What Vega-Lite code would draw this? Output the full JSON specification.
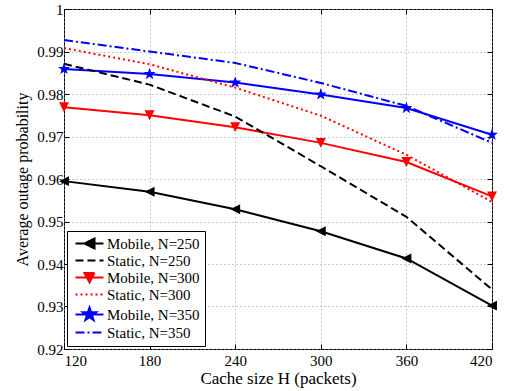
{
  "$schema": "https://vega.github.io/schema/vega-lite/v6.json",
  "width": 428,
  "height": 340,
  "autosize": {"type": "none"},
  "padding": {"left": 64, "top": 9, "right": 18, "bottom": 42},
  "config": {
    "view": {"stroke": "#000", "strokeWidth": 1},
    "font": "Liberation Serif",
    "axis": {
      "labelFont": "Liberation Serif", "labelFontSize": 15, "labelColor": "#000",
      "titleFont": "Liberation Serif", "titleFontSize": 17, "titleFontWeight": "normal", "titleColor": "#000",
      "domain": false, "tickColor": "#000", "tickSize": -5, "labelPadding": 9,
      "gridColor": "#999", "gridDash": [1, 3], "gridWidth": 1
    },
    "legend": {
      "labelFont": "Liberation Serif", "labelFontSize": 15, "labelColor": "#000"
    }
  },
  "data": {"values": [
    {"H": 120, "p": 0.9595, "series": "Mobile, N=250", "type": "Mobile"},
    {"H": 180, "p": 0.9570, "series": "Mobile, N=250", "type": "Mobile"},
    {"H": 240, "p": 0.9529, "series": "Mobile, N=250", "type": "Mobile"},
    {"H": 300, "p": 0.9477, "series": "Mobile, N=250", "type": "Mobile"},
    {"H": 360, "p": 0.9413, "series": "Mobile, N=250", "type": "Mobile"},
    {"H": 420, "p": 0.9302, "series": "Mobile, N=250", "type": "Mobile"},
    {"H": 120, "p": 0.9871, "series": "Static, N=250", "type": "Static"},
    {"H": 180, "p": 0.9822, "series": "Static, N=250", "type": "Static"},
    {"H": 240, "p": 0.9747, "series": "Static, N=250", "type": "Static"},
    {"H": 300, "p": 0.9630, "series": "Static, N=250", "type": "Static"},
    {"H": 360, "p": 0.9511, "series": "Static, N=250", "type": "Static"},
    {"H": 420, "p": 0.9340, "series": "Static, N=250", "type": "Static"},
    {"H": 120, "p": 0.9769, "series": "Mobile, N=300", "type": "Mobile"},
    {"H": 180, "p": 0.9750, "series": "Mobile, N=300", "type": "Mobile"},
    {"H": 240, "p": 0.9722, "series": "Mobile, N=300", "type": "Mobile"},
    {"H": 300, "p": 0.9685, "series": "Mobile, N=300", "type": "Mobile"},
    {"H": 360, "p": 0.9640, "series": "Mobile, N=300", "type": "Mobile"},
    {"H": 420, "p": 0.9559, "series": "Mobile, N=300", "type": "Mobile"},
    {"H": 120, "p": 0.9908, "series": "Static, N=300", "type": "Static"},
    {"H": 180, "p": 0.9870, "series": "Static, N=300", "type": "Static"},
    {"H": 240, "p": 0.9815, "series": "Static, N=300", "type": "Static"},
    {"H": 300, "p": 0.9749, "series": "Static, N=300", "type": "Static"},
    {"H": 360, "p": 0.9657, "series": "Static, N=300", "type": "Static"},
    {"H": 420, "p": 0.9546, "series": "Static, N=300", "type": "Static"},
    {"H": 120, "p": 0.9859, "series": "Mobile, N=350", "type": "Mobile"},
    {"H": 180, "p": 0.9847, "series": "Mobile, N=350", "type": "Mobile"},
    {"H": 240, "p": 0.9827, "series": "Mobile, N=350", "type": "Mobile"},
    {"H": 300, "p": 0.9799, "series": "Mobile, N=350", "type": "Mobile"},
    {"H": 360, "p": 0.9767, "series": "Mobile, N=350", "type": "Mobile"},
    {"H": 420, "p": 0.9704, "series": "Mobile, N=350", "type": "Mobile"},
    {"H": 120, "p": 0.9927, "series": "Static, N=350", "type": "Static"},
    {"H": 180, "p": 0.9900, "series": "Static, N=350", "type": "Static"},
    {"H": 240, "p": 0.9873, "series": "Static, N=350", "type": "Static"},
    {"H": 300, "p": 0.9826, "series": "Static, N=350", "type": "Static"},
    {"H": 360, "p": 0.9772, "series": "Static, N=350", "type": "Static"},
    {"H": 420, "p": 0.9685, "series": "Static, N=350", "type": "Static"}
  ]},
  "layer": [
    {
      "transform": [{"filter": "datum.type === 'Mobile'"}],
      "mark": {"type": "line", "strokeWidth": 2},
      "encoding": {
        "x": {"field": "H", "type": "quantitative",
          "scale": {"domain": [120, 420], "nice": false, "zero": false},
          "axis": {"values": [120, 180, 240, 300, 360, 420], "title": "Cache size H (packets)", "titlePadding": 2}},
        "y": {"field": "p", "type": "quantitative",
          "scale": {"domain": [0.92, 1], "nice": false, "zero": false},
          "axis": {"values": [0.92, 0.93, 0.94, 0.95, 0.96, 0.97, 0.98, 0.99, 1], "format": ".2~f", "title": "Average outage probability", "titleFontSize": 16, "titlePadding": 6, "labelPadding": 6}},
        "color": {"field": "series", "type": "nominal",
          "scale": {"domain": ["Mobile, N=250", "Mobile, N=300", "Mobile, N=350"],
                    "range": ["#000000", "#ff0000", "#0000ff"]},
          "legend": null}
      }
    },
    {
      "transform": [{"filter": "datum.series === 'Static, N=250'"}],
      "mark": {"type": "line", "strokeWidth": 2, "color": "#000000", "strokeDash": [8, 4]},
      "encoding": {
        "x": {"field": "H", "type": "quantitative",
          "axis": {"orient": "top", "values": [120, 180, 240, 300, 360, 420], "labels": false, "grid": false, "title": null}},
        "y": {"field": "p", "type": "quantitative",
          "axis": {"orient": "right", "values": [0.92, 0.93, 0.94, 0.95, 0.96, 0.97, 0.98, 0.99, 1], "labels": false, "grid": false, "title": null}}
      }
    },
    {
      "transform": [{"filter": "datum.series === 'Static, N=300'"}],
      "mark": {"type": "line", "strokeWidth": 2, "color": "#ff0000", "strokeDash": [2, 3]},
      "encoding": {
        "x": {"field": "H", "type": "quantitative", "axis": null},
        "y": {"field": "p", "type": "quantitative", "axis": null}
      }
    },
    {
      "transform": [{"filter": "datum.series === 'Static, N=350'"}],
      "mark": {"type": "line", "strokeWidth": 2, "color": "#0000ff", "strokeDash": [9, 3, 2, 3]},
      "encoding": {
        "x": {"field": "H", "type": "quantitative", "axis": null},
        "y": {"field": "p", "type": "quantitative", "axis": null}
      }
    },
    {
      "transform": [{"filter": "datum.series === 'Mobile, N=250'"}],
      "mark": {"type": "point", "filled": true, "opacity": 1, "size": 121, "color": "#000000", "shape": "M-0.9,0L0.9,-0.9L0.9,0.9Z"},
      "encoding": {
        "x": {"field": "H", "type": "quantitative", "axis": null},
        "y": {"field": "p", "type": "quantitative", "axis": null}
      }
    },
    {
      "transform": [{"filter": "datum.series === 'Mobile, N=300'"}],
      "mark": {"type": "point", "filled": true, "opacity": 1, "size": 121, "color": "#ff0000", "shape": "M-0.9,-0.9L0.9,-0.9L0,0.9Z"},
      "encoding": {
        "x": {"field": "H", "type": "quantitative", "axis": null},
        "y": {"field": "p", "type": "quantitative", "axis": null}
      }
    },
    {
      "transform": [{"filter": "datum.series === 'Mobile, N=350'"}],
      "mark": {"type": "point", "filled": true, "opacity": 1, "size": 121, "color": "#0000ff", "shape": "M0,-1.15L0.27,-0.37L1.09,-0.36L0.44,0.14L0.68,0.93L0,0.46L-0.68,0.93L-0.44,0.14L-1.09,-0.36L-0.27,-0.37Z"},
      "encoding": {
        "x": {"field": "H", "type": "quantitative", "axis": null},
        "y": {"field": "p", "type": "quantitative", "axis": null}
      }
    },
    {
      "mark": {"type": "point", "filled": true, "opacity": 0, "strokeWidth": 2},
      "encoding": {
        "x": {"field": "H", "type": "quantitative", "axis": null},
        "y": {"field": "p", "type": "quantitative", "axis": null},
        "fill": {"field": "series", "type": "nominal",
          "scale": {"domain": ["Mobile, N=250", "Static, N=250", "Mobile, N=300", "Static, N=300", "Mobile, N=350", "Static, N=350"],
                    "range": ["#000000", "#000000", "#ff0000", "#ff0000", "#0000ff", "#0000ff"]},
          "legend": {"title": null, "orient": "bottom-left", "offset": 3, "padding": 5, "strokeColor": "#000", "fillColor": "#fff", "symbolSize": 100, "symbolOffset": 10, "symbolOpacity": 1, "symbolStrokeWidth": 2, "labelOffset": 10, "rowPadding": 0}},
        "stroke": {"field": "series", "type": "nominal",
          "scale": {"domain": ["Mobile, N=250", "Static, N=250", "Mobile, N=300", "Static, N=300", "Mobile, N=350", "Static, N=350"],
                    "range": ["#000000", "#000000", "#ff0000", "#ff0000", "#0000ff", "#0000ff"]},
          "legend": {"title": null, "orient": "bottom-left", "offset": 3, "padding": 5, "strokeColor": "#000", "fillColor": "#fff", "symbolSize": 100, "symbolOffset": 10, "symbolOpacity": 1, "symbolStrokeWidth": 2, "labelOffset": 10, "rowPadding": 0}},
        "shape": {"field": "series", "type": "nominal",
          "scale": {"domain": ["Mobile, N=250", "Static, N=250", "Mobile, N=300", "Static, N=300", "Mobile, N=350", "Static, N=350"],
                    "range": ["M-2.8,0H2.8M-1,0L1,-1L1,1Z", "M-2.8,0H2.8", "M-2.8,0H2.8M-1,-0.9L1,-0.9L0,1Z", "M-2.8,0H2.8", "M-2.8,0H2.8M0,-1.4L0.33,-0.45L1.33,-0.44L0.54,0.17L0.82,1.12L0,0.55L-0.82,1.12L-0.54,0.17L-1.33,-0.44L-0.33,-0.45Z", "M-2.8,0H2.8"]},
          "legend": {"title": null, "orient": "bottom-left", "offset": 3, "padding": 5, "strokeColor": "#000", "fillColor": "#fff", "symbolSize": 100, "symbolOffset": 10, "symbolOpacity": 1, "symbolStrokeWidth": 2, "labelOffset": 10, "rowPadding": 0}},
        "strokeDash": {"field": "series", "type": "nominal",
          "scale": {"domain": ["Mobile, N=250", "Static, N=250", "Mobile, N=300", "Static, N=300", "Mobile, N=350", "Static, N=350"],
                    "range": [[1, 0], [8, 4], [1, 0], [2, 3], [1, 0], [9, 3, 2, 3]]},
          "legend": {"title": null, "orient": "bottom-left", "offset": 3, "padding": 5, "strokeColor": "#000", "fillColor": "#fff", "symbolSize": 100, "symbolOffset": 10, "symbolOpacity": 1, "symbolStrokeWidth": 2, "labelOffset": 10, "rowPadding": 0}}
      }
    }
  ],
  "resolve": {
    "axis": {"x": "independent", "y": "independent"}
  }
}
